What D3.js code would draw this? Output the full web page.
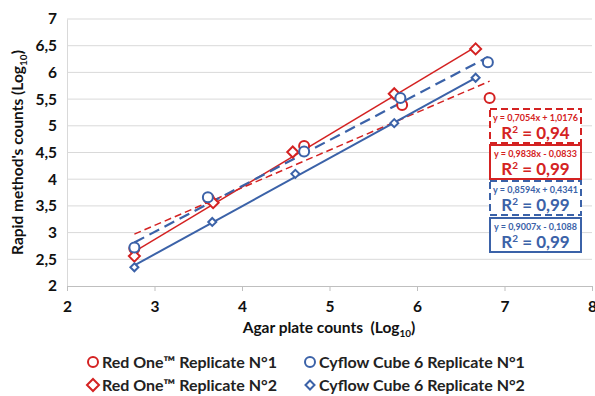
<!DOCTYPE html>
<html>
<head>
<meta charset="utf-8">
<script src="https://cdn.jsdelivr.net/npm/d3@7"></script>
<style>
  body { margin: 0; background: #fff; }
  text { font-family: Lato, "Open Sans", sans-serif; font-weight: bold; }
</style>
</head>
<body>
<div class="chart"></div>
<script>
// series values
let seriesNames = ["Red One\u2122 Replicate N\u00b01", "Red One\u2122 Replicate N\u00b02",
                   "Cyflow Cube 6 Replicate N\u00b01", "Cyflow Cube 6 Replicate N\u00b02"];
let redOne1X = [2.77, 3.62, 4.71, 5.83, 6.83];
let redOne1Y = [2.70, 3.64, 4.62, 5.39, 5.52];
let redOne2X = [2.77, 3.67, 4.58, 5.74, 6.67];
let redOne2Y = [2.56, 3.56, 4.51, 5.60, 6.44];
let cyflow1X = [2.77, 3.61, 4.71, 5.81, 6.81];
let cyflow1Y = [2.72, 3.66, 4.52, 5.52, 6.19];
let cyflow2X = [2.77, 3.66, 4.61, 5.74, 6.67];
let cyflow2Y = [2.35, 3.20, 4.10, 5.05, 5.90];
// trendline equations as printed in the labels
let slopes = [0.7054, 0.9838, 0.8594, 0.9007];
let intercepts = [1.0176, -0.0833, 0.4341, -0.1088];
let eqLabels = ["y = 0,7054x + 1,0176", "y = 0,9838x - 0,0833", "y = 0,8594x + 0,4341", "y = 0,9007x - 0,1088"];
let r2Labels = ["0,94", "0,99", "0,99", "0,99"];
let xTicks = [2, 3, 4, 5, 6, 7, 8];
let yTicks = [2, 2.5, 3, 3.5, 4, 4.5, 5, 5.5, 6, 6.5, 7];

let width = 595, height = 396;
let red = "#d42222", blue = "#3b62a8";

let series = [
  {x: redOne1X, y: redOne1Y, color: red, shape: "circle", dash: "7,4", lw: 1.5, r: 5},
  {x: redOne2X, y: redOne2Y, color: red, shape: "diamond", dash: null, lw: 1.5, r: 5.5},
  {x: cyflow1X, y: cyflow1Y, color: blue, shape: "circle", dash: "11,6", lw: 2.2, r: 5},
  {x: cyflow2X, y: cyflow2Y, color: blue, shape: "diamond", dash: null, lw: 2, r: 4}
];

const svg = d3.select(".chart").append("svg")
  .attr("width", width).attr("height", height);

let x = d3.scaleLinear().domain([2, 8]).range([67, 592]);
let y = d3.scaleLinear().domain([2, 7]).range([286, 19]);

// gridlines
svg.append("g").selectAll("line")
  .data(yTicks.slice(1))
  .enter().append("line")
  .attr("x1", x(2)).attr("x2", x(8))
  .attr("y1", d => y(d)).attr("y2", d => y(d))
  .attr("stroke", "#d9d9d9").attr("stroke-width", 1);

// y axis
let yAxis = svg.append("g")
  .attr("transform", "translate(" + x(2) + ",0)")
  .call(d3.axisLeft(y).tickValues(yTicks).tickSize(0).tickPadding(10)
    .tickFormat(d => String(d).replace(".", ",")));
yAxis.select(".domain").attr("stroke", "#d9d9d9");
yAxis.selectAll("text").attr("font-size", 15.5).attr("fill", "#111")
  .style("font-family", "Lato, sans-serif").style("font-weight", "bold");

// x axis
let xAxis = svg.append("g")
  .attr("transform", "translate(0," + y(2) + ")")
  .call(d3.axisBottom(x).tickValues(xTicks).tickSize(5).tickPadding(10)
    .tickFormat(d3.format("d")));
xAxis.select(".domain").attr("stroke", "#bfbfbf");
xAxis.selectAll("line").attr("stroke", "#bfbfbf");
xAxis.selectAll("text").attr("font-size", 15.5).attr("fill", "#111")
  .style("font-family", "Lato, sans-serif").style("font-weight", "bold");

// axis titles
let yt = svg.append("text")
  .attr("transform", "translate(23," + ((y(2) + y(7)) / 2) + ") rotate(-90)")
  .attr("text-anchor", "middle").attr("font-size", 15.5).attr("fill", "#111");
yt.append("tspan").text("Rapid method's counts (Log");
yt.append("tspan").attr("font-size", 10).attr("dy", 4).text("10");
yt.append("tspan").attr("dy", -4).text(")");

let xt = svg.append("text")
  .attr("x", 329).attr("y", 333)
  .attr("text-anchor", "middle").attr("font-size", 15.5).attr("fill", "#111");
xt.append("tspan").text("Agar plate counts\u00a0 (Log");
xt.append("tspan").attr("font-size", 10).attr("dy", 4).text("10");
xt.append("tspan").attr("dy", -4).text(")");

// trendlines
series.forEach(function (s, i) {
  let x0 = d3.min(s.x), x1 = d3.max(s.x);
  svg.append("line")
    .attr("x1", x(x0)).attr("y1", y(slopes[i] * x0 + intercepts[i]))
    .attr("x2", x(x1)).attr("y2", y(slopes[i] * x1 + intercepts[i]))
    .attr("stroke", s.color).attr("stroke-width", s.lw)
    .attr("stroke-dasharray", s.dash);
});

let drawMarker = function (g, shape, r, color, sw) {
  if (shape === "circle") {
    g.append("circle").attr("r", r).attr("fill", "#fff")
      .attr("stroke", color).attr("stroke-width", sw);
  } else {
    g.append("path").attr("d", "M0," + (-r) + "L" + r + ",0L0," + r + "L" + (-r) + ",0Z")
      .attr("fill", "#fff").attr("stroke", color).attr("stroke-width", sw);
  }
};

// markers
series.forEach(function (s) {
  s.x.forEach(function (xv, j) {
    let g = svg.append("g").attr("transform", "translate(" + x(xv) + "," + y(s.y[j]) + ")");
    drawMarker(g, s.shape, s.r, s.color, 2);
  });
});

// equation boxes
let boxTop = [109, 145, 181, 218];
let boxDash = ["7,4", null, "7,4", null];
series.forEach(function (s, i) {
  let g = svg.append("g").attr("transform", "translate(490," + boxTop[i] + ")");
  g.append("rect").attr("width", 91).attr("height", 34)
    .attr("fill", "#fff").attr("stroke", s.color).attr("stroke-width", 2)
    .attr("stroke-dasharray", boxDash[i]);
  g.append("text").attr("x", 45.5).attr("y", 11.5)
    .attr("text-anchor", "middle").attr("font-size", 9).attr("fill", s.color)
    .text(eqLabels[i]);
  let t = g.append("text").attr("x", 45.5).attr("y", 29.5)
    .attr("text-anchor", "middle").attr("font-size", 17).attr("fill", s.color);
  t.append("tspan").text("R");
  t.append("tspan").attr("font-size", 10).attr("dy", -6).text("2");
  t.append("tspan").attr("dy", 6).text(" = " + r2Labels[i]);
});

// legend
let legendPos = [[93, 362], [93, 385], [310, 362], [310, 385]];
series.forEach(function (s, i) {
  let g = svg.append("g").attr("transform", "translate(" + legendPos[i][0] + "," + legendPos[i][1] + ")");
  drawMarker(g, s.shape, s.shape === "circle" ? 5 : (i === 1 ? 6 : 4.5), s.color, 2);
  g.append("text").attr("x", 9).attr("y", 5.5)
    .attr("font-size", 16).attr("fill", "#222").text(seriesNames[i]);
});
</script>
</body>
</html>
